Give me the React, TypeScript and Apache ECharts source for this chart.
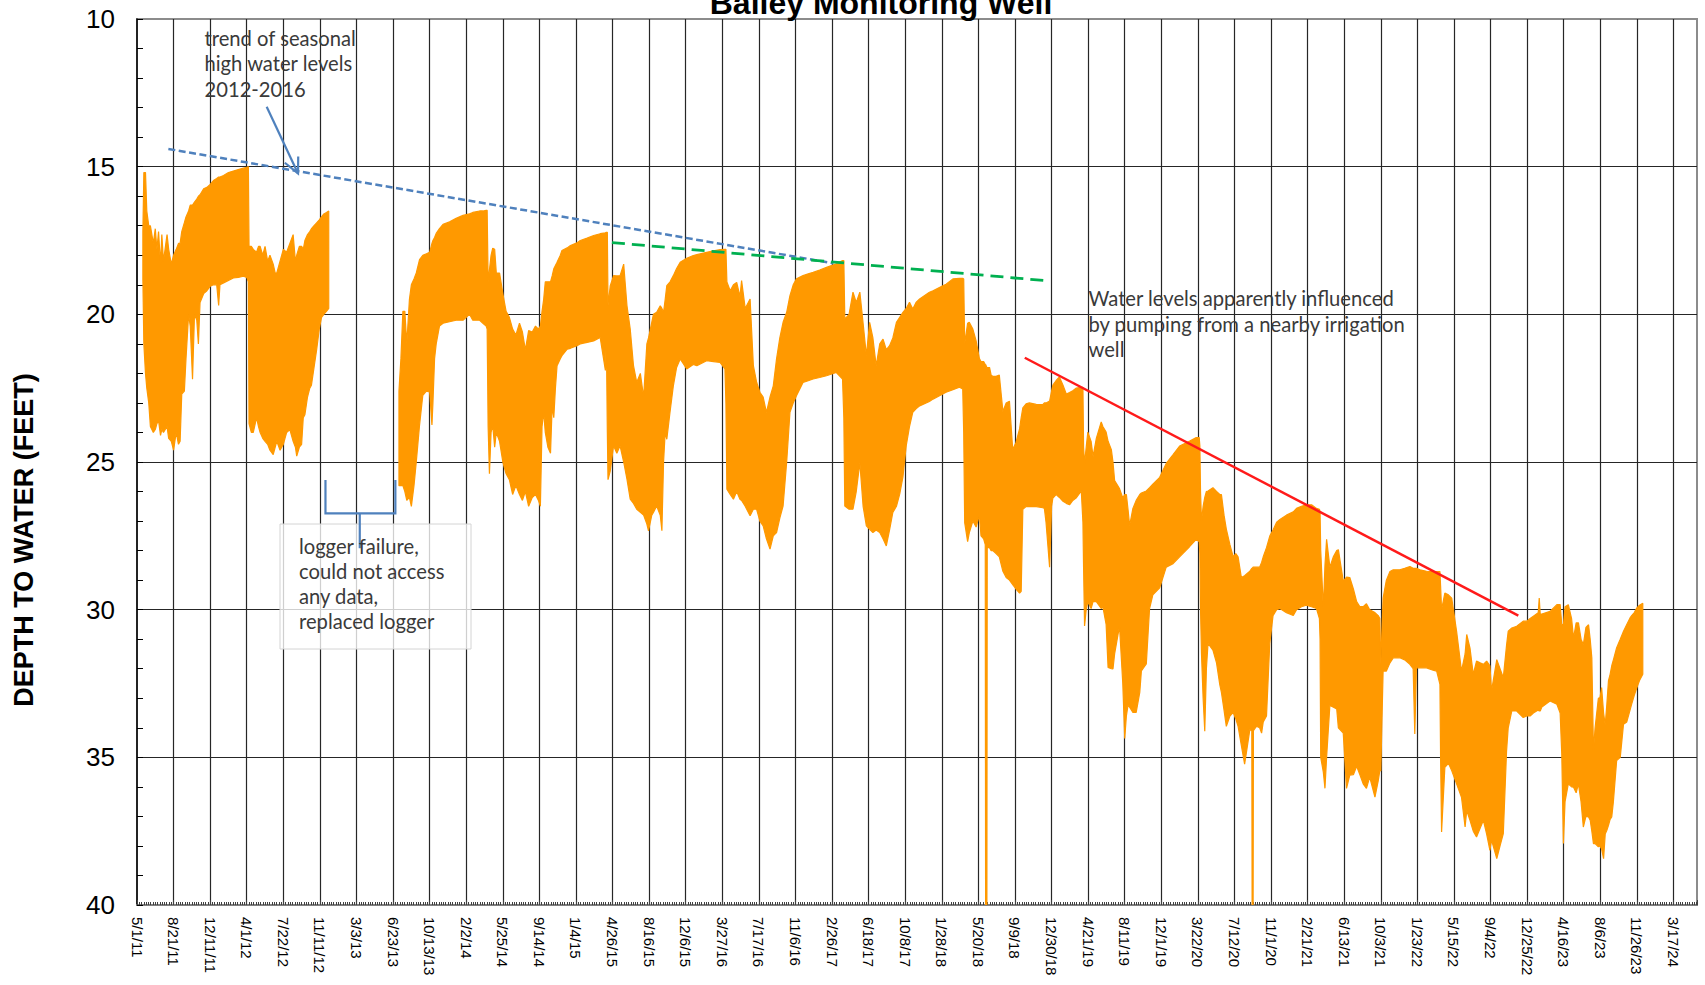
import React, { useEffect, useRef } from "react";
import * as echarts from "echarts";

const TITLE = "Bailey Monitoring Well";
const Y_AXIS_TITLE = "DEPTH TO WATER (FEET)";

// x values: days counted from 5/1/11 ; y values: depth to water (feet)
const X_START_UTC = Date.UTC(2011, 4, 1);
const X_TICK_DAYS = 112;
const X_MAX_DAYS = 4776;
const Y_MIN = 10;
const Y_MAX = 40;
const Y_STEP = 5;

// each record: [day, shallowest reading, deepest reading]
const readings2011to2012: number[][] = [
  [18, 17.2, 18.8], [21, 15.2, 21.0], [26, 15.2, 22.0], [30, 16.5, 22.5], [36, 17.0, 23.0],
  [41, 17.0, 23.8], [50, 17.6, 24.0], [56, 17.1, 23.9], [61, 17.8, 23.7], [66, 17.2, 23.6],
  [72, 18.3, 24.1], [76, 17.3, 23.9], [81, 18.2, 24.0], [92, 17.3, 23.8], [97, 17.8, 24.2],
  [105, 18.3, 24.3], [112, 18.0, 24.6], [120, 17.8, 24.0], [127, 17.6, 24.4], [132, 17.6, 24.3],
  [137, 17.2, 22.7], [145, 16.9, 22.6], [150, 16.7, 21.5], [158, 16.5, 20.0], [163, 16.3, 20.4],
  [170, 16.3, 22.2], [176, 16.2, 20.0], [183, 16.1, 20.2], [188, 16.0, 21.0], [193, 15.95, 19.6],
  [204, 15.75, 19.3], [214, 15.7, 19.2], [224, 15.6, 19.05], [234, 15.47, 19.0], [244, 15.4, 19.0],
  [250, 15.35, 19.7], [254, 15.35, 19.0], [265, 15.3, 18.94], [280, 15.2, 18.85], [295, 15.15, 18.77],
  [310, 15.1, 18.75], [326, 15.05, 18.71], [336, 15.02, 18.75], [341, 15.0, 18.9], [343, 17.7, 23.7],
  [350, 17.7, 24.0], [356, 17.8, 24.0], [366, 17.9, 23.5], [372, 17.7, 23.8], [377, 17.7, 24.0],
  [385, 18.0, 24.2], [392, 17.7, 24.3], [400, 18.2, 24.4], [407, 18.0, 24.6], [417, 18.3, 24.75],
  [423, 18.6, 24.5], [428, 18.6, 24.3], [438, 18.2, 24.6], [448, 17.8, 24.4], [458, 17.9, 24.0],
  [468, 17.6, 23.9], [478, 17.3, 24.3], [485, 18.2, 24.5], [489, 18.0, 24.8], [497, 17.7, 24.5],
  [504, 17.7, 24.4], [509, 17.8, 23.5], [514, 17.5, 23.4], [522, 17.3, 22.8], [529, 17.2, 22.5],
  [534, 17.1, 22.4], [542, 17.0, 21.8], [550, 16.9, 21.2], [558, 16.8, 20.5], [565, 16.7, 20.1],
  [572, 16.6, 20.0], [580, 16.55, 19.9], [587, 16.5, 19.8],
];

const readings2013to2015: number[][] = [
  [802, 22.6, 25.8], [808, 21.5, 25.8], [814, 19.9, 25.8], [820, 19.9, 26.0], [826, 21.0, 26.3],
  [834, 19.5, 26.2], [840, 19.0, 26.5], [848, 18.8, 25.8], [855, 18.6, 25.0], [865, 18.15, 23.75],
  [875, 18.0, 22.74], [886, 17.95, 22.6], [896, 17.9, 22.63], [903, 17.6, 23.75], [906, 17.5, 23.0],
  [911, 17.4, 21.5], [916, 17.26, 21.0], [926, 17.1, 20.4], [937, 16.95, 20.3], [957, 16.87, 20.25],
  [977, 16.75, 20.2], [998, 16.65, 20.2], [1018, 16.6, 20.0], [1028, 16.55, 20.2], [1049, 16.5, 20.2],
  [1059, 16.5, 20.3], [1069, 16.48, 20.4], [1072, 16.48, 20.5], [1075, 18.9, 23.8], [1079, 18.5, 25.4],
  [1084, 18.0, 24.0], [1089, 17.76, 23.75], [1095, 17.8, 24.5], [1100, 18.6, 24.0], [1110, 18.6, 24.3],
  [1120, 19.3, 25.0], [1130, 19.9, 25.4], [1140, 20.1, 25.6], [1150, 20.5, 26.1], [1160, 20.7, 25.8],
  [1171, 20.3, 26.1], [1180, 20.6, 26.3], [1189, 21.2, 26.0], [1199, 20.55, 26.5], [1210, 20.6, 26.2],
  [1220, 20.4, 26.1], [1229, 20.5, 26.3], [1235, 20.4, 26.5],
  [1240, 19.9, 23.8], [1245, 19.5, 23.3], [1250, 18.9, 24.0], [1258, 18.9, 24.5], [1266, 18.9, 24.7],
  [1271, 18.7, 23.1], [1276, 18.46, 23.5], [1281, 18.35, 22.5], [1286, 18.24, 21.74], [1296, 18.0, 21.5],
  [1301, 17.84, 21.4], [1317, 17.75, 21.18], [1327, 17.67, 21.15], [1347, 17.58, 21.06], [1357, 17.5, 21.0],
  [1378, 17.42, 20.95], [1398, 17.33, 20.9], [1418, 17.27, 20.78], [1434, 17.24, 21.9], [1437, 17.22, 20.8],
  [1440, 17.22, 24.0], [1442, 19.7, 25.6], [1449, 19.03, 25.3], [1459, 18.69, 24.45], [1469, 18.7, 24.7],
  [1479, 18.69, 24.45], [1490, 18.3, 25.0], [1500, 19.7, 25.58], [1510, 20.5, 26.26], [1520, 21.74, 26.4],
  [1530, 22.3, 26.6], [1541, 22.0, 26.7], [1551, 22.8, 26.8], [1561, 21.0, 27.1], [1566, 20.8, 27.33],
  [1576, 20.27, 26.8], [1581, 20.0, 26.71], [1591, 19.93, 26.49], [1602, 19.71, 26.8], [1607, 19.8, 27.33],
  [1612, 19.93, 25.02], [1617, 19.5, 24.0],
];

const readings2015to2017: number[][] = [
  [1622, 19.03, 24.23], [1632, 18.9, 23.3], [1642, 18.69, 22.42], [1652, 18.45, 21.8], [1663, 18.24, 21.51],
  [1683, 18.1, 21.85], [1703, 18.01, 21.7], [1714, 17.98, 21.74], [1744, 17.9, 21.57], [1765, 17.85, 21.6],
  [1785, 17.81, 21.63], [1800, 17.8, 21.85], [1803, 17.8, 23.0], [1806, 18.9, 25.92], [1816, 19.2, 26.1],
  [1826, 19.0, 26.26], [1836, 18.92, 26.0], [1846, 19.4, 26.26], [1851, 18.86, 26.3], [1862, 19.8, 26.5],
  [1877, 19.48, 26.82], [1887, 21.74, 26.6], [1897, 22.3, 26.6], [1907, 22.64, 27.0], [1917, 22.8, 27.16],
  [1927, 23.32, 27.6], [1938, 22.8, 27.95], [1948, 22.42, 27.5], [1958, 21.51, 27.39], [1968, 20.8, 26.9],
  [1978, 20.27, 26.49], [1989, 19.93, 25.0],
  [1999, 19.37, 23.32], [2009, 19.0, 23.0], [2019, 18.8, 22.76], [2039, 18.69, 22.31], [2055, 18.63, 22.25],
  [2070, 18.58, 22.19], [2090, 18.5, 22.14], [2111, 18.41, 22.08], [2141, 18.29, 21.97], [2160, 18.18, 22.19],
  [2164, 18.18, 23.5], [2167, 20.16, 26.49], [2180, 20.0, 26.6], [2192, 19.25, 26.6], [2202, 19.6, 26.0],
  [2213, 19.25, 25.02], [2223, 20.3, 26.5], [2233, 21.4, 27.16], [2243, 20.27, 27.28], [2253, 20.8, 27.39],
  [2263, 21.74, 27.3], [2274, 21.0, 27.39], [2284, 20.84, 27.6], [2294, 21.2, 27.84], [2304, 21.06, 27.3],
  [2314, 20.8, 26.71], [2325, 20.27, 26.5], [2335, 20.1, 26.09], [2345, 19.93, 25.5], [2355, 19.8, 24.45],
  [2365, 19.59, 23.8],
];

const readings2017to2019: number[][] = [
  [2375, 19.82, 23.32], [2385, 19.6, 23.2], [2396, 19.48, 23.1], [2426, 19.25, 22.95], [2437, 19.2, 22.87],
  [2467, 19.03, 22.7], [2477, 18.98, 22.64], [2498, 18.8, 22.55], [2518, 18.78, 22.47], [2528, 18.78, 22.53],
  [2531, 18.8, 24.0], [2534, 21.0, 27.05], [2543, 20.3, 27.7], [2548, 20.27, 27.4], [2559, 20.5, 27.0],
  [2569, 20.9, 27.2], [2579, 21.5, 26.8], [2584, 21.6, 27.5], [2592, 21.6, 27.6], [2597, 21.7, 27.8],
  [2598, 21.7, 40], [2602, 21.8, 40], [2603, 21.8, 27.9], [2610, 21.8, 27.9], [2615, 22.06, 28.0],
  [2620, 22.1, 28.0], [2630, 22.1, 28.1], [2640, 22.06, 28.21], [2651, 23.29, 28.7], [2661, 23.0, 28.91],
  [2671, 22.94, 29.0], [2681, 24.58, 29.15], [2691, 24.34, 29.3], [2702, 23.88, 29.44], [2707, 23.5, 29.38],
  [2712, 23.17, 26.6], [2722, 23.03, 26.51], [2732, 23.0, 26.5], [2753, 23.05, 26.51], [2773, 23.06, 26.55],
  [2778, 23.0, 26.57], [2783, 23.0, 27.04], [2794, 22.94, 28.56], [2800, 22.6, 26.5], [2804, 22.4, 26.22],
  [2814, 22.24, 26.1], [2824, 22.12, 26.2], [2835, 22.4, 26.33], [2845, 22.7, 26.4], [2855, 22.65, 26.45],
  [2865, 22.59, 26.3], [2875, 22.5, 26.22], [2891, 22.47, 25.98], [2896, 22.47, 27.04],
];

const readings2019to2021: number[][] = [
  [2898, 24.5, 28.56], [2901, 25.05, 30.55], [2906, 24.5, 30.0], [2911, 23.99, 29.73], [2921, 24.3, 29.96],
  [2927, 24.81, 29.73], [2937, 24.2, 29.73], [2952, 23.64, 29.96], [2957, 23.8, 29.9], [2967, 23.99, 30.5],
  [2973, 24.3, 31.96], [2983, 24.58, 32.0], [2988, 25.0, 32.01], [2993, 25.63, 31.5], [3008, 25.9, 30.55],
  [3018, 26.22, 32.5], [3024, 26.1, 34.36], [3029, 26.1, 33.6], [3034, 26.6, 33.24], [3039, 27.15, 33.3],
  [3049, 26.57, 33.48], [3059, 26.3, 33.48], [3070, 26.1, 32.8], [3075, 26.05, 32.07], [3090, 25.98, 31.84],
  [3100, 25.87, 29.96], [3110, 25.75, 29.5], [3131, 25.52, 29.26], [3151, 25.05, 28.56], [3172, 24.75, 28.44],
  [3192, 24.46, 28.21], [3223, 24.29, 27.86], [3243, 24.17, 27.62], [3252, 24.17, 27.7], [3254, 24.46, 28.09],
  [3256, 26.0, 29.96], [3259, 27.0, 31.5], [3264, 26.5, 33.0], [3269, 26.2, 34.12], [3274, 26.0, 32.0],
  [3279, 25.98, 31.14], [3294, 25.87, 31.37], [3305, 26.0, 31.8], [3315, 26.1, 32.54], [3320, 26.1, 32.8],
  [3328, 26.8, 33.4], [3335, 27.27, 33.95], [3346, 27.8, 33.6], [3356, 28.21, 33.48], [3364, 28.1, 33.7],
  [3371, 28.21, 33.95], [3381, 28.91, 34.6], [3391, 28.85, 35.23], [3397, 28.79, 34.8], [3407, 28.7, 34.06],
  [3413, 28.6, 34.1], [3414, 28.6, 40], [3417, 28.56, 40], [3418, 28.56, 34.1], [3427, 28.56, 33.95],
  [3437, 28.56, 34.0], [3443, 28.4, 34.18], [3448, 28.21, 33.8], [3458, 27.9, 33.6], [3468, 27.51, 31.14],
  [3478, 27.3, 30.2], [3489, 27.04, 30.0], [3499, 26.95, 29.96], [3519, 26.8, 30.1], [3540, 26.69, 30.2],
  [3550, 26.57, 30.0], [3565, 26.5, 29.9], [3580, 26.45, 29.85], [3596, 26.45, 29.9], [3611, 26.57, 29.96],
  [3620, 26.6, 30.3], [3622, 26.7, 31.0],
];

const readings2021to2023: number[][] = [
  [3624, 28.0, 35.0], [3632, 29.96, 35.5], [3637, 28.5, 36.05], [3642, 27.62, 35.0], [3652, 28.56, 33.24],
  [3663, 28.2, 33.3], [3673, 28.0, 33.36], [3678, 27.97, 34.0], [3693, 29.03, 34.18], [3703, 28.9, 36.05],
  [3713, 28.91, 35.6], [3724, 29.3, 35.59], [3734, 29.73, 35.3], [3744, 29.9, 35.59], [3754, 29.9, 35.9],
  [3764, 29.8, 36.05], [3774, 30.0, 35.67], [3790, 30.1, 36.35], [3800, 30.2, 35.8], [3805, 30.3, 35.45],
  [3808, 31.85, 35.45], [3812, 30.5, 33.5], [3815, 29.61, 32.08], [3825, 29.0, 32.08], [3836, 28.71, 31.8],
  [3846, 28.65, 31.63], [3866, 28.65, 31.63], [3881, 28.6, 31.7], [3897, 28.54, 31.85], [3907, 28.6, 32.0],
  [3912, 28.6, 34.21], [3917, 28.6, 31.97], [3928, 28.65, 31.97], [3948, 28.7, 31.97], [3968, 28.71, 32.05],
  [3979, 28.71, 32.08], [3989, 28.71, 32.53], [3991, 29.2, 35.0], [3994, 30.0, 37.53], [4004, 29.44, 35.34],
  [4015, 29.5, 35.2], [4025, 29.61, 35.45], [4040, 30.73, 35.9], [4055, 32.08, 36.35], [4066, 31.5, 37.36],
  [4071, 30.84, 36.8], [4081, 31.3, 37.13], [4091, 32.19, 37.5], [4101, 31.74, 37.7], [4112, 31.8, 37.4],
  [4122, 31.85, 37.13], [4132, 31.74, 37.6], [4142, 31.9, 38.15], [4147, 32.75, 37.8], [4163, 31.69, 38.43],
  [4173, 32.0, 38.0], [4183, 32.3, 37.58], [4193, 31.2, 34.78], [4198, 30.73, 34.0], [4209, 30.62, 33.43],
];

const readings2023to2024: number[][] = [
  [4224, 30.56, 33.43], [4244, 30.39, 33.65], [4255, 30.39, 33.6], [4265, 30.3, 33.6], [4275, 30.22, 33.5],
  [4290, 30.1, 33.4], [4293, 29.61, 33.43], [4296, 30.15, 33.43], [4301, 30.15, 33.3], [4326, 30.06, 33.09],
  [4347, 29.83, 33.2], [4357, 29.83, 33.5], [4362, 30.5, 34.89], [4367, 30.51, 37.92], [4372, 29.9, 36.5],
  [4382, 29.83, 35.9], [4392, 30.3, 36.0], [4398, 30.96, 36.01], [4406, 30.45, 36.2], [4413, 30.45, 35.9],
  [4421, 31.0, 36.5], [4428, 31.18, 37.36], [4436, 30.6, 37.0], [4444, 30.51, 37.02], [4449, 31.0, 37.13],
  [4454, 31.63, 37.5], [4459, 34.78, 37.92], [4464, 34.0, 37.92], [4474, 33.0, 38.03], [4479, 32.98, 38.0],
  [4484, 32.64, 38.1], [4490, 33.5, 38.43], [4495, 33.9, 37.6], [4500, 33.2, 37.47], [4505, 32.4, 37.3],
  [4510, 32.19, 37.1], [4515, 31.9, 37.02], [4520, 31.7, 36.5], [4530, 31.29, 35.11], [4541, 31.0, 35.0],
  [4551, 30.73, 33.88], [4561, 30.5, 33.8], [4571, 30.28, 33.4], [4576, 30.2, 33.2], [4584, 30.1, 32.9],
  [4592, 29.94, 32.64], [4600, 29.85, 32.4], [4610, 29.78, 32.19],
];

// annotation lines in data space: [day, depth]
const seasonalHighTrend = [[96, 14.4], [2132, 18.27]];
const laterHighTrend = [[1454, 17.57], [2781, 18.86]];
const pumpingTrend = [[2718, 21.47], [4229, 30.2]];
const noteArrow = [[397, 12.97], [493, 15.23]];
const loggerGapDays = [577, 791, 682];
const loggerGapDepths = [25.61, 26.74, 27.92];

const noteSeasonal = ["trend of seasonal", "high water levels", "2012-2016"];
const notePumping = ["Water levels apparently influenced", "by pumping from a nearby irrigation", "well"];
const noteLogger = ["logger failure,", "could not access", "any data,", "replaced logger"];

const ORANGE = "#ff9900";
const NOTE_BLUE = "#4f81bd";
const ARIAL = '"Liberation Sans", Arial, sans-serif';
const NOTE_FONT = '20.2px Lato, "Open Sans", sans-serif';

function formatDay(v: number): string {
  const k = v / X_TICK_DAYS;
  if (Math.abs(k - Math.round(k)) > 1e-6) return "";
  const d = new Date(X_START_UTC + Math.round(v) * 86400000);
  return `${d.getUTCMonth() + 1}/${d.getUTCDate()}/${String(d.getUTCFullYear()).slice(2)}`;
}

export default function App() {
  const ref = useRef<HTMLDivElement>(null);

  useEffect(() => {
    if (!ref.current) return;
    const chart = echarts.init(ref.current, null, { renderer: "svg" });

    const segments = [
      readings2011to2012,
      [...readings2013to2015, ...readings2015to2017, ...readings2017to2019, ...readings2019to2021, ...readings2021to2023, ...readings2023to2024],
    ];
    const flat: number[][] = [];
    segments.forEach((seg, s) => seg.forEach((r, k) => flat.push([r[0], r[1], r[2], s, k])));

    const trendLine = (data: number[][], color: string, width: number, type: any) => ({
      type: "line",
      data,
      symbol: "none",
      silent: true,
      z: 5,
      lineStyle: { color, width, type },
    });

    const option: any = {
      animation: false,
      backgroundColor: "#ffffff",
      grid: {
        left: 137, right: 8, top: 19, bottom: 80,
        show: true, borderColor: "#8c8c8c", borderWidth: 2, backgroundColor: "transparent",
        outerBoundsMode: "none",
      },
      xAxis: {
        type: "value",
        min: 0,
        max: X_MAX_DAYS,
        interval: X_TICK_DAYS,
        axisLine: { show: true, lineStyle: { color: "#7f7f7f", width: 2 } },
        axisTick: { show: true, inside: true, length: 5, lineStyle: { color: "#404040", width: 1 } },
        minorTick: { show: true, splitNumber: 16, length: 3, lineStyle: { color: "#404040", width: 1 } },
        axisLabel: {
          rotate: -90, margin: 12, fontSize: 15, fontFamily: ARIAL, color: "#000",
          formatter: formatDay, showMaxLabel: false, showMinLabel: true, hideOverlap: false,
        },
        splitLine: { show: true, showMinLine: false, showMaxLine: false, lineStyle: { color: "#262626", width: 1.2 } },
      },
      yAxis: {
        type: "value",
        inverse: true,
        min: Y_MIN,
        max: Y_MAX,
        interval: Y_STEP,
        axisLine: { show: true, lineStyle: { color: "#000", width: 1.5 } },
        axisTick: { show: true, inside: true, length: 6, lineStyle: { color: "#000", width: 1 } },
        minorTick: { show: true, splitNumber: 5, length: 6, lineStyle: { color: "#000", width: 1 } },
        axisLabel: { fontSize: 26, margin: 22, fontFamily: ARIAL, color: "#000" },
        splitLine: { show: true, showMinLine: false, showMaxLine: false, lineStyle: { color: "#262626", width: 1.2 } },
      },
      series: [
        {
          type: "custom",
          silent: true,
          clip: true,
          z: 3,
          data: flat.map((r) => [r[0], r[1], r[2]]),
          encode: { x: 0, y: [1, 2] },
          renderItem: (params: any, api: any) => {
            const rec = flat[params.dataIndex];
            if (!rec || rec[4] !== 0) return { type: "group", children: [] };
            const seg = segments[rec[3]];
            const upper = seg.map((r) => api.coord([r[0], r[1]]));
            const lower = seg.map((r) => api.coord([r[0], r[2]])).reverse();
            return {
              type: "polygon",
              shape: { points: upper.concat(lower) },
              style: { fill: ORANGE, stroke: ORANGE, lineWidth: 1.2, lineJoin: "bevel" },
            };
          },
        },
        trendLine(seasonalHighTrend, NOTE_BLUE, 2.5, [7, 3.5]),
        trendLine(laterHighTrend, "#00b050", 2.8, [13, 7]),
        trendLine(pumpingTrend, "#ff1a1a", 2.5, "solid"),
      ],
    };
    chart.setOption(option);

    const px = (d: number, v: number) => chart.convertToPixel({ xAxisIndex: 0, yAxisIndex: 0 }, [d, v]) as number[];

    const tail = px(noteArrow[0][0], noteArrow[0][1]);
    const tip = px(noteArrow[1][0], noteArrow[1][1]);
    const ang = Math.atan2(tip[1] - tail[1], tip[0] - tail[0]);
    const armLen = 17;
    const armA = [tip[0] - armLen * Math.cos(ang - 0.45), tip[1] - armLen * Math.sin(ang - 0.45)];
    const armB = [tip[0] - armLen * Math.cos(ang + 0.45), tip[1] - armLen * Math.sin(ang + 0.45)];

    const gl = px(loggerGapDays[0], loggerGapDepths[0]);
    const gbl = px(loggerGapDays[0], loggerGapDepths[1]);
    const gr = px(loggerGapDays[1], loggerGapDepths[0]);
    const gbr = px(loggerGapDays[1], loggerGapDepths[1]);
    const gs = px(loggerGapDays[2], loggerGapDepths[1]);
    const gse = px(loggerGapDays[2], loggerGapDepths[2]);

    const blueStroke = { stroke: NOTE_BLUE, lineWidth: 2.2, fill: null };

    const graphics: any[] = [
      {
        type: "text", x: 881, y: 3, z: 20,
        style: { text: TITLE, font: `bold 32px ${ARIAL}`, fill: "#000", align: "center", verticalAlign: "middle" },
      },
      {
        type: "text", x: 23.5, y: 540, rotation: Math.PI / 2, z: 20,
        style: { text: Y_AXIS_TITLE, font: `bold 27px ${ARIAL}`, fill: "#000", align: "center", verticalAlign: "middle" },
      },
      {
        type: "text", x: 204.5, y: 25, z: 20,
        style: { text: noteSeasonal.join("\n"), font: NOTE_FONT, lineHeight: 25.5, fill: "#3a3a3a", align: "left", verticalAlign: "top" },
      },
      {
        type: "text", x: 1088.5, y: 285.2, z: 20,
        style: { text: notePumping.join("\n"), font: NOTE_FONT, lineHeight: 25.7, fill: "#3a3a3a", align: "left", verticalAlign: "top" },
      },
      { type: "polyline", z: 20, shape: { points: [tail, tip] }, style: blueStroke },
      { type: "polyline", z: 20, shape: { points: [armA, tip, armB] }, style: blueStroke },
      { type: "polyline", z: 20, shape: { points: [gl, gbl, gbr, gr] }, style: blueStroke },
      {
        type: "rect", z: 19,
        shape: { x: 280, y: 524, width: 191, height: 125 },
        style: { fill: "rgba(255,255,255,0.78)", stroke: "#d4d4d4", lineWidth: 1 },
      },
      { type: "polyline", z: 21, shape: { points: [gs, gse] }, style: blueStroke },
      {
        type: "text", x: 299, y: 533, z: 22,
        style: { text: noteLogger.join("\n"), font: NOTE_FONT, lineHeight: 25, fill: "#3a3a3a", align: "left", verticalAlign: "top" },
      },
    ];
    chart.setOption({ graphic: graphics });

    return () => chart.dispose();
  }, []);

  return (
    <div
      ref={ref}
      style={{ position: "fixed", left: 0, top: 0, width: 1705, height: 985, background: "#fff" }}
    />
  );
}
